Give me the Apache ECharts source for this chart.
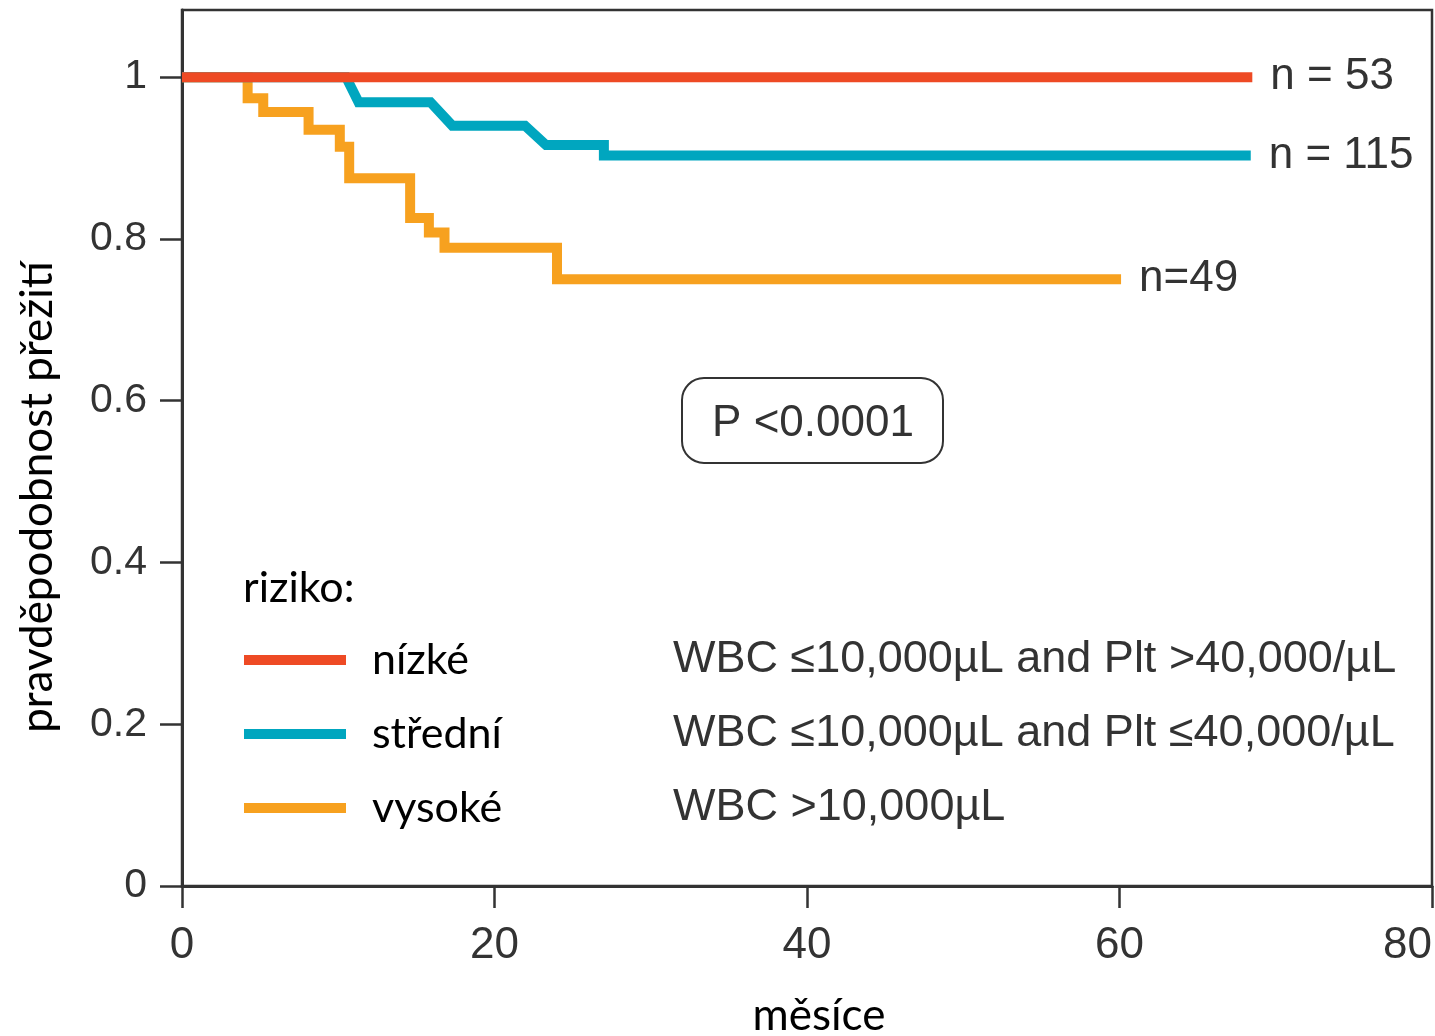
<!DOCTYPE html>
<html>
<head>
<meta charset="utf-8">
<script src="https://cdn.jsdelivr.net/npm/echarts@6/dist/echarts.min.js"></script>
<style>
html,body{margin:0;padding:0;background:#fff;}
#chart{width:1435px;height:1036px;}
</style>
</head>
<body>
<div id="chart"></div>
<script>
// ---- data ----
const seriesNames = ['nízké', 'střední', 'vysoké'];
const seriesDescs = [
  'WBC ≤10,000µL and Plt >40,000/µL',
  'WBC ≤10,000µL and Plt ≤40,000/µL',
  'WBC >10,000µL'
];
const nLabels = ['n = 53', 'n = 115', 'n=49'];

const monthsLow = [0, 68.5];
const survLow   = [1, 1];

const monthsMid = [0, 10.5, 11.3, 15.9, 17.3, 21.95, 23.3, 27.0, 27.0, 68.4];
const survMid   = [1, 1, 0.969, 0.969, 0.940, 0.940, 0.916, 0.916, 0.903, 0.903];

const monthsHigh = [0, 4.2, 5.2, 8.1, 10.1, 10.7, 14.6, 15.8, 16.8, 24.0, 60.1];
const survHigh   = [1, 0.974, 0.957, 0.935, 0.914, 0.875, 0.826, 0.808, 0.789, 0.750, 0.750];

const yTicks = [0, 0.2, 0.4, 0.6, 0.8, 1];
const xTicks = [0, 20, 40, 60, 80];
const pText = 'P <0.0001';
const legendTitle = 'riziko:';
const xName = 'měsíce';
const yName = 'pravděpodobnost přežití';

// ---- chart ----
const colors = ['#EE4A24', '#00A6BF', '#F7A11F'];
const zip = (xs, ys) => xs.map((x, i) => [x, ys[i]]);
const descMap = {};
seriesNames.forEach((n, i) => descMap[n] = seriesDescs[i]);

const helv = '"Liberation Sans", Arial, Helvetica, sans-serif';
const cal = 'Lato, "Noto Sans", sans-serif';

function lineSeries(idx, data, step, z) {
  return {
    name: seriesNames[idx],
    type: 'line',
    data: data,
    step: step,
    symbol: 'none',
    z: z,
    animation: false,
    color: colors[idx],
    lineStyle: { color: colors[idx], width: 10, cap: 'butt', join: 'miter' },
    endLabel: {
      show: true,
      formatter: nLabels[idx],
      distance: 18,
      fontFamily: helv,
      fontSize: 44,
      color: '#333'
    }
  };
}

const chart = echarts.init(document.getElementById('chart'), null, { renderer: 'canvas' });
chart.setOption({
  backgroundColor: '#fff',
  animation: false,
  grid: {
    left: 182, right: 3, top: 10, bottom: 150,
    outerBoundsMode: 'none',
    containLabel: false,
    show: true, borderColor: '#333', borderWidth: 2.5, backgroundColor: 'transparent'
  },
  xAxis: {
    type: 'value', min: 0, max: 80, interval: 20,
    axisLine: { show: true, onZero: false, lineStyle: { color: '#333', width: 3 } },
    axisTick: { show: true, length: 22, lineStyle: { color: '#333', width: 2.5 }, customValues: xTicks },
    axisLabel: { margin: 38, fontFamily: helv, fontSize: 44, color: '#333', alignMaxLabel: 'right', customValues: xTicks },
    splitLine: { show: false }
  },
  yAxis: {
    type: 'value', min: 0, max: 1.083,
    axisLine: { show: true, onZero: false, lineStyle: { color: '#333', width: 3 } },
    axisTick: { show: true, length: 22, lineStyle: { color: '#333', width: 2.5 }, customValues: yTicks },
    axisLabel: { margin: 35, fontFamily: helv, fontSize: 41, color: '#333', customValues: yTicks },
    splitLine: { show: false }
  },
  legend: {
    orient: 'vertical',
    left: 244, top: 635,
    padding: 0,
    data: seriesNames,
    icon: 'rect',
    itemWidth: 102, itemHeight: 10,
    itemGap: 24,
    selectedMode: false,
    formatter: n => `{a|${n}}{b|${descMap[n]}}`,
    textStyle: {
      rich: {
        a: { fontFamily: cal, fontSize: 43, color: '#000', width: 301, padding: [0, 0, 0, 21], height: 50, lineHeight: 50 },
        b: { fontFamily: helv, fontSize: 45, color: '#333', height: 50, lineHeight: 50 }
      }
    }
  },
  graphic: [
    {
      type: 'text', x: 243, y: 588,
      style: { text: legendTitle, font: '43px ' + cal, fill: '#000', verticalAlign: 'middle' }
    },
    {
      type: 'text', x: 819, y: 1016,
      style: { text: xName, font: '44px ' + cal, fill: '#000', align: 'center', verticalAlign: 'middle' }
    },
    {
      type: 'text', x: 38, y: 497, rotation: Math.PI / 2,
      style: { text: yName, font: '44px ' + cal, fill: '#000', align: 'center', verticalAlign: 'middle' }
    },
    {
      type: 'group', left: 681, top: 377,
      children: [
        { type: 'rect', shape: { x: 0, y: 0, width: 261, height: 85, r: 22 },
          style: { fill: '#fff', stroke: '#333', lineWidth: 2 } },
        { type: 'text', x: 131, y: 46,
          style: { text: pText, font: '44px ' + helv, fill: '#333', align: 'center', verticalAlign: 'middle' } }
      ]
    }
  ],
  series: [
    lineSeries(2, zip(monthsHigh, survHigh), 'end', 2),
    lineSeries(1, zip(monthsMid, survMid), false, 3),
    lineSeries(0, zip(monthsLow, survLow), false, 4)
  ]
});
</script>
</body>
</html>
